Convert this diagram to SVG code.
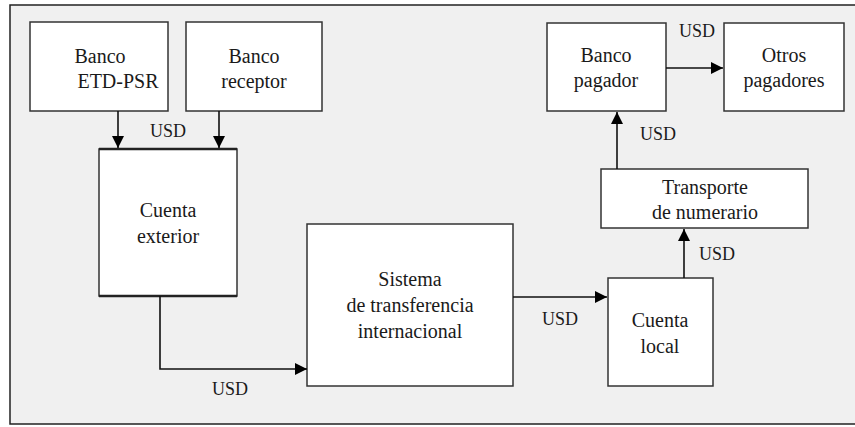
<svg xmlns="http://www.w3.org/2000/svg" width="855" height="427" viewBox="0 0 855 427" font-family="Liberation Serif, DejaVu Serif, serif">
<defs>
<style>
.box{fill:#fff;stroke:#333;stroke-width:1.5}
.t{font-size:20px;fill:#1a1a1a;text-anchor:middle}
.u{font-size:18px;fill:#1a1a1a;text-anchor:middle}
.c{fill:none;stroke:#111;stroke-width:1.6}
</style>
<marker id="ah" viewBox="0 0 10 10" refX="10" refY="5" markerWidth="13" markerHeight="12" markerUnits="userSpaceOnUse" orient="auto">
<path d="M0,0 L10,5 L0,10 z" fill="#000"/>
</marker>
</defs>
<rect x="0" y="0" width="855" height="427" fill="#fff"/>
<rect x="10" y="5" width="850" height="419" fill="#f0f0f0" stroke="#222" stroke-width="1.5"/>

<g id="banco-etd">
<rect class="box" x="30" y="22" width="138" height="89"/>
<text class="t" x="100" y="63">Banco</text>
<text class="t" x="118" y="88">ETD-PSR</text>
</g>
<g id="banco-receptor">
<rect class="box" x="186" y="22" width="136" height="89"/>
<text class="t" x="254" y="63">Banco</text>
<text class="t" x="254" y="88">receptor</text>
</g>
<g id="cuenta-exterior">
<rect class="box" x="99" y="149" width="138" height="147"/>
<line x1="99" y1="149" x2="237" y2="149" stroke="#222" stroke-width="2.5"/>
<line x1="99" y1="296" x2="237" y2="296" stroke="#222" stroke-width="2.5"/>
<text class="t" x="168" y="217">Cuenta</text>
<text class="t" x="168" y="243">exterior</text>
</g>
<g id="sistema">
<rect class="box" x="307" y="224" width="206" height="162"/>
<text class="t" x="410" y="286">Sistema</text>
<text class="t" x="410" y="312">de transferencia</text>
<text class="t" x="410" y="338">internacional</text>
</g>
<g id="cuenta-local">
<rect class="box" x="608" y="278" width="105" height="108"/>
<text class="t" x="660" y="327">Cuenta</text>
<text class="t" x="660" y="353">local</text>
</g>
<g id="transporte">
<rect class="box" x="601" y="169" width="207" height="59"/>
<text class="t" x="705" y="194">Transporte</text>
<text class="t" x="705" y="219">de numerario</text>
</g>
<g id="banco-pagador">
<rect class="box" x="547" y="23" width="119" height="88"/>
<text class="t" x="606" y="62">Banco</text>
<text class="t" x="606" y="87">pagador</text>
</g>
<g id="otros-pagadores">
<rect class="box" x="724" y="23" width="120" height="88"/>
<text class="t" x="784" y="62">Otros</text>
<text class="t" x="784" y="87">pagadores</text>
</g>

<g id="connectors">
<path class="c" d="M118,111 V148" marker-end="url(#ah)"/>
<path class="c" d="M219,111 V148" marker-end="url(#ah)"/>
<text class="u" x="168" y="137">USD</text>
<path class="c" d="M160,296 V369 H307" marker-end="url(#ah)"/>
<text class="u" x="230" y="395">USD</text>
<path class="c" d="M513,297 H607" marker-end="url(#ah)"/>
<text class="u" x="560" y="325">USD</text>
<path class="c" d="M684,278 V229" marker-end="url(#ah)"/>
<text class="u" x="717" y="260">USD</text>
<path class="c" d="M617,169 V112" marker-end="url(#ah)"/>
<text class="u" x="658" y="140">USD</text>
<path class="c" d="M666,68 H723" marker-end="url(#ah)"/>
<text class="u" x="697" y="37">USD</text>
</g>
</svg>
